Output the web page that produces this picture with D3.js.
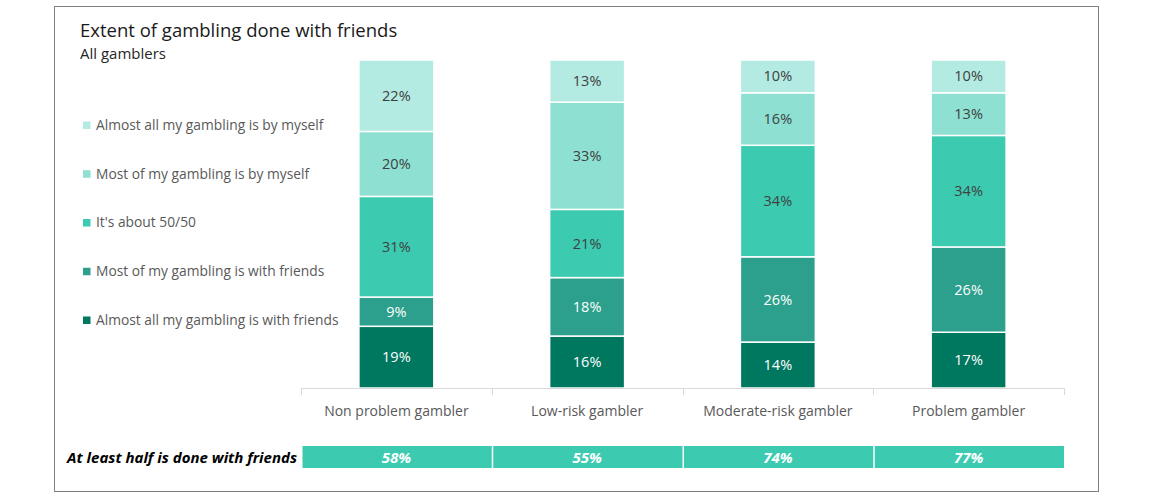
<!DOCTYPE html>
<html>
<head>
<meta charset="utf-8">
<script src="https://cdn.jsdelivr.net/npm/d3@7"></script>
<style>
    body { margin: 0; background: #fff; }
    svg { font-family: "Open Sans", sans-serif; display: block; }
</style>
</head>
<body>
<svg id="chart"></svg>
<script>
// categories & series (bottom of stack -> top)
const categories = ["Non problem gambler", "Low-risk gambler", "Moderate-risk gambler", "Problem gambler"];
const seriesNames = [
    "Almost all my gambling is with friends",
    "Most of my gambling is with friends",
    "It's about 50/50",
    "Most of my gambling is by myself",
    "Almost all my gambling is by myself"
];
const almostAllFriends = [19, 16, 14, 17];
const mostFriends = [9, 18, 26, 26];
const fiftyFifty = [31, 21, 34, 34];
const mostMyself = [20, 33, 16, 13];
const almostAllMyself = [22, 13, 10, 10];
const atLeastHalf = [58, 55, 74, 77];

const colors = ["#00775f", "#2ca08c", "#3ccbb1", "#8de0d2", "#b3eae1"];
const labelColors = ["#ffffff", "#ffffff", "#404040", "#404040", "#404040"];

const width = 1154, height = 497;
const svg = d3.select("#chart").attr("width", width).attr("height", height);

// frame
svg.append("rect")
    .attr("x", 54.5).attr("y", 6.5)
    .attr("width", 1044).attr("height", 485)
    .attr("fill", "none")
    .attr("stroke", "#7f7f7f");

// title
svg.append("text").attr("x", 80).attr("y", 37)
    .attr("font-size", "18.5px").attr("fill", "#1a1a1a")
    .text("Extent of gambling done with friends");
svg.append("text").attr("x", 80).attr("y", 59)
    .attr("font-size", "15px").attr("fill", "#262626")
    .text("All gamblers");

// build table for the stack
const table = categories.map((c, i) => ({
    category: c,
    s0: almostAllFriends[i],
    s1: mostFriends[i],
    s2: fiftyFifty[i],
    s3: mostMyself[i],
    s4: almostAllMyself[i]
}));
const keys = ["s0", "s1", "s2", "s3", "s4"];

// values are rounded so stacks don't always sum to 100 -> expand
const stacked = d3.stack().keys(keys).offset(d3.stackOffsetExpand)(table);

const x = d3.scaleBand()
    .domain(categories)
    .range([301, 1064])
    .paddingInner(0.607)
    .paddingOuter(0.3035);

const y = d3.scaleLinear().domain([0, 1]).range([388, 60]);

// segments
const layers = svg.selectAll("g.layer")
    .data(stacked)
    .enter()
    .append("g")
    .attr("class", "layer");

layers.selectAll("rect")
    .data(d => d)
    .enter()
    .append("rect")
    .attr("x", d => x(d.data.category))
    .attr("y", d => y(d[1]))
    .attr("width", x.bandwidth())
    .attr("height", d => y(d[0]) - y(d[1]))
    .attr("fill", function() { return colors[d3.select(this.parentNode).datum().index]; })
    .attr("stroke", "#fff")
    .attr("stroke-width", 1.5);

layers.selectAll("text")
    .data(d => d.map(v => ({ v, key: d.key, idx: d.index })))
    .enter()
    .append("text")
    .attr("x", d => x(d.v.data.category) + x.bandwidth() / 2)
    .attr("y", d => (y(d.v[0]) + y(d.v[1])) / 2)
    .attr("dy", "0.35em")
    .attr("text-anchor", "middle")
    .attr("font-size", "14.5px")
    .attr("fill", d => labelColors[d.idx])
    .text(d => d.v.data[d.key] + "%");

// x axis: line, ticks between categories, labels
const step = x.step();
const axis = svg.append("g");
axis.append("line")
    .attr("x1", 301).attr("x2", 1064)
    .attr("y1", 388.5).attr("y2", 388.5)
    .attr("stroke", "#d9d9d9");
const bounds = categories.map(c => x(c) - (step - x.bandwidth()) / 2).concat([1064]);
axis.selectAll("line.tick")
    .data(bounds)
    .enter()
    .append("line")
    .attr("class", "tick")
    .attr("x1", d => Math.round(d) + 0.5).attr("x2", d => Math.round(d) + 0.5)
    .attr("y1", 388).attr("y2", 395)
    .attr("stroke", "#d9d9d9");
axis.selectAll("text")
    .data(categories)
    .enter()
    .append("text")
    .attr("x", d => x(d) + x.bandwidth() / 2)
    .attr("y", 411)
    .attr("dy", "0.35em")
    .attr("text-anchor", "middle")
    .attr("font-size", "14px")
    .attr("fill", "#595959")
    .text(d => d);

// legend (top = last series)
const legend = svg.append("g");
const legendRows = seriesNames.map((n, i) => ({ name: n, i })).reverse();
const legendY = d3.scalePoint().domain(legendRows.map(d => d.name)).range([125, 320]);
legend.selectAll("rect")
    .data(legendRows)
    .enter()
    .append("rect")
    .attr("x", 83).attr("y", d => legendY(d.name) - 3.5)
    .attr("width", 7.5).attr("height", 7.5)
    .attr("fill", d => colors[d.i]);
legend.selectAll("text")
    .data(legendRows)
    .enter()
    .append("text")
    .attr("x", 96)
    .attr("y", d => legendY(d.name))
    .attr("dy", "0.35em")
    .attr("font-size", "13.8px")
    .attr("fill", "#595959")
    .text(d => d.name);

// bottom summary row
svg.append("text")
    .attr("x", 297).attr("y", 458)
    .attr("dy", "0.35em")
    .attr("text-anchor", "end")
    .attr("font-size", "15px")
    .attr("font-weight", "bold")
    .attr("font-style", "italic")
    .attr("fill", "#000")
    .text("At least half is done with friends");

const summary = svg.append("g");
summary.selectAll("rect")
    .data(categories)
    .enter()
    .append("rect")
    .attr("x", (d, i) => bounds[i] + 1.5)
    .attr("y", 446)
    .attr("width", step - 1.5)
    .attr("height", 22)
    .attr("fill", "#3ccbb1");
summary.selectAll("text")
    .data(categories)
    .enter()
    .append("text")
    .attr("x", d => x(d) + x.bandwidth() / 2)
    .attr("y", 457.5)
    .attr("dy", "0.35em")
    .attr("text-anchor", "middle")
    .attr("font-size", "15px")
    .attr("font-weight", "bold")
    .attr("font-style", "italic")
    .attr("fill", "#ffffff")
    .text((d, i) => atLeastHalf[i] + "%");
</script>
</body>
</html>
